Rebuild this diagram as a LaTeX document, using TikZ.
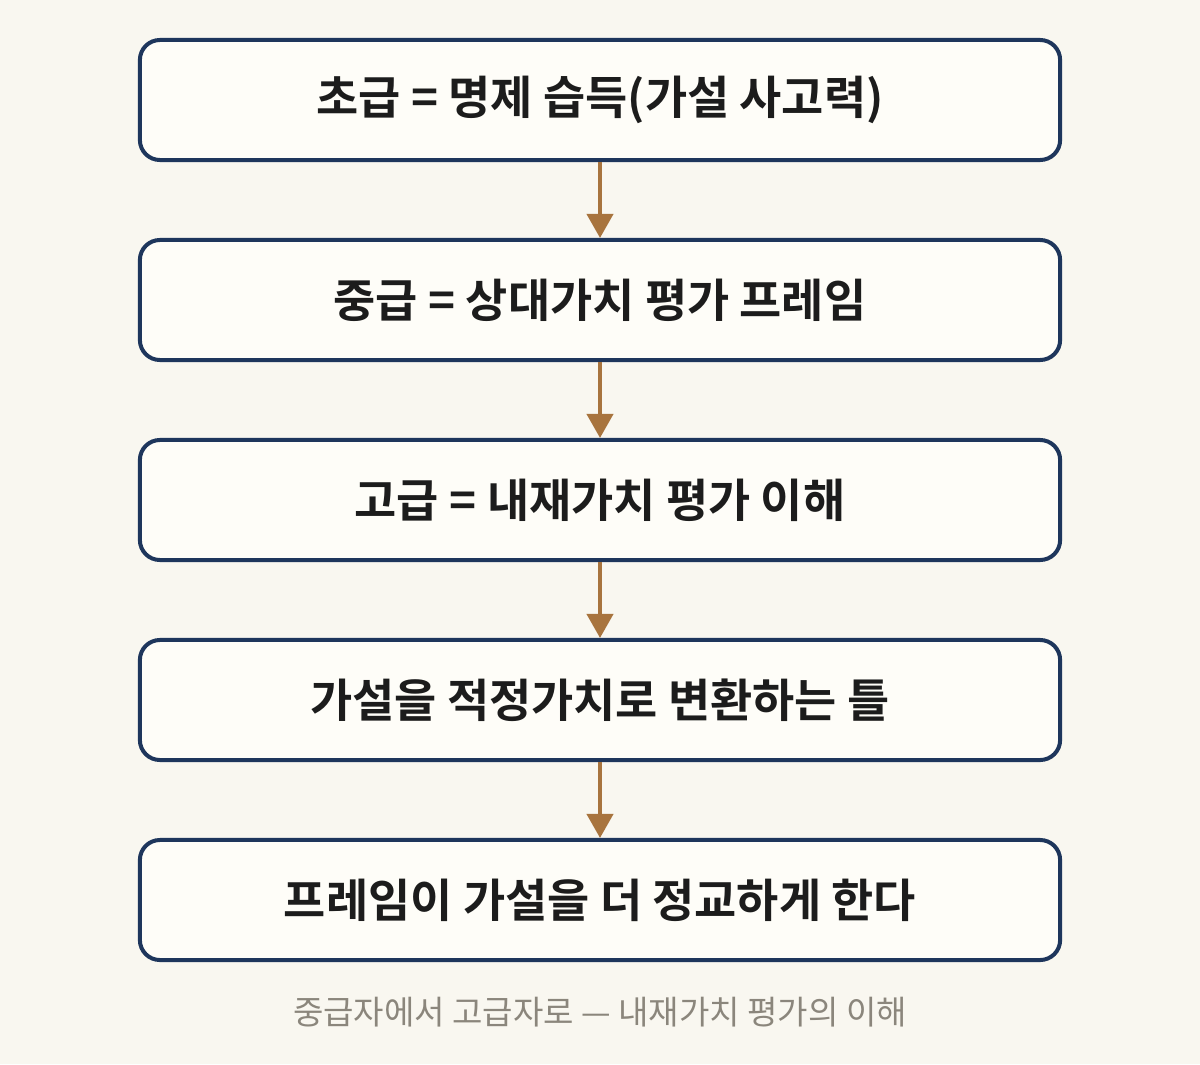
\documentclass[tikz,border=0pt]{standalone}
\usepackage{fontspec}
\usepackage{xcolor}
\usetikzlibrary{arrows.meta}
\newfontfamily\krfont{Noto Sans CJK KR}
\newfontfamily\krbold{Noto Sans CJK KR Bold}
\definecolor{bgpaper}{HTML}{F9F7F0}
\definecolor{boxfill}{HTML}{FEFDF8}
\definecolor{boxline}{HTML}{1E365C}
\definecolor{arrowbrown}{HTML}{A8743E}
\definecolor{captiongray}{HTML}{8B867C}
\definecolor{textdark}{HTML}{1C1C1C}

\begin{document}
\begin{tikzpicture}[x=0.025cm,y=-0.025cm,
	stagebox/.style={draw=boxline,fill=boxfill,line width=0.1cm,rounded corners=0.5cm,
		minimum width=23cm,minimum height=3cm,text=textdark,font=\krbold\fontsize{32.6}{36}\selectfont},
	flowarrow/.style={draw=arrowbrown,line width=0.1cm,-{Triangle[width=0.65cm,length=0.6cm]}}]
	% background
	\fill[bgpaper] (0,0) rectangle (1200,1064);
	% boxes
	\node[stagebox] (b1) at (600,100) {초급 = 명제 습득(가설 사고력)};
	\node[stagebox] (b2) at (600,300) {중급 = 상대가치 평가 프레임};
	\node[stagebox] (b3) at (600,500) {고급 = 내재가치 평가 이해};
	\node[stagebox] (b4) at (600,700) {가설을 적정가치로 변환하는 틀};
	\node[stagebox] (b5) at (600,900) {프레임이 가설을 더 정교하게 한다};
	% arrows
	\foreach \a/\b in {b1/b2,b2/b3,b3/b4,b4/b5}
	\draw[flowarrow] (\a.south) -- (\b.north);
	% caption
	\node[text=captiongray,font=\krfont\fontsize{23.5}{28}\selectfont] (cap) at (600,1012) {중급자에서 고급자로 — 내재가치 평가의 이해};
\end{tikzpicture}
\end{document}
